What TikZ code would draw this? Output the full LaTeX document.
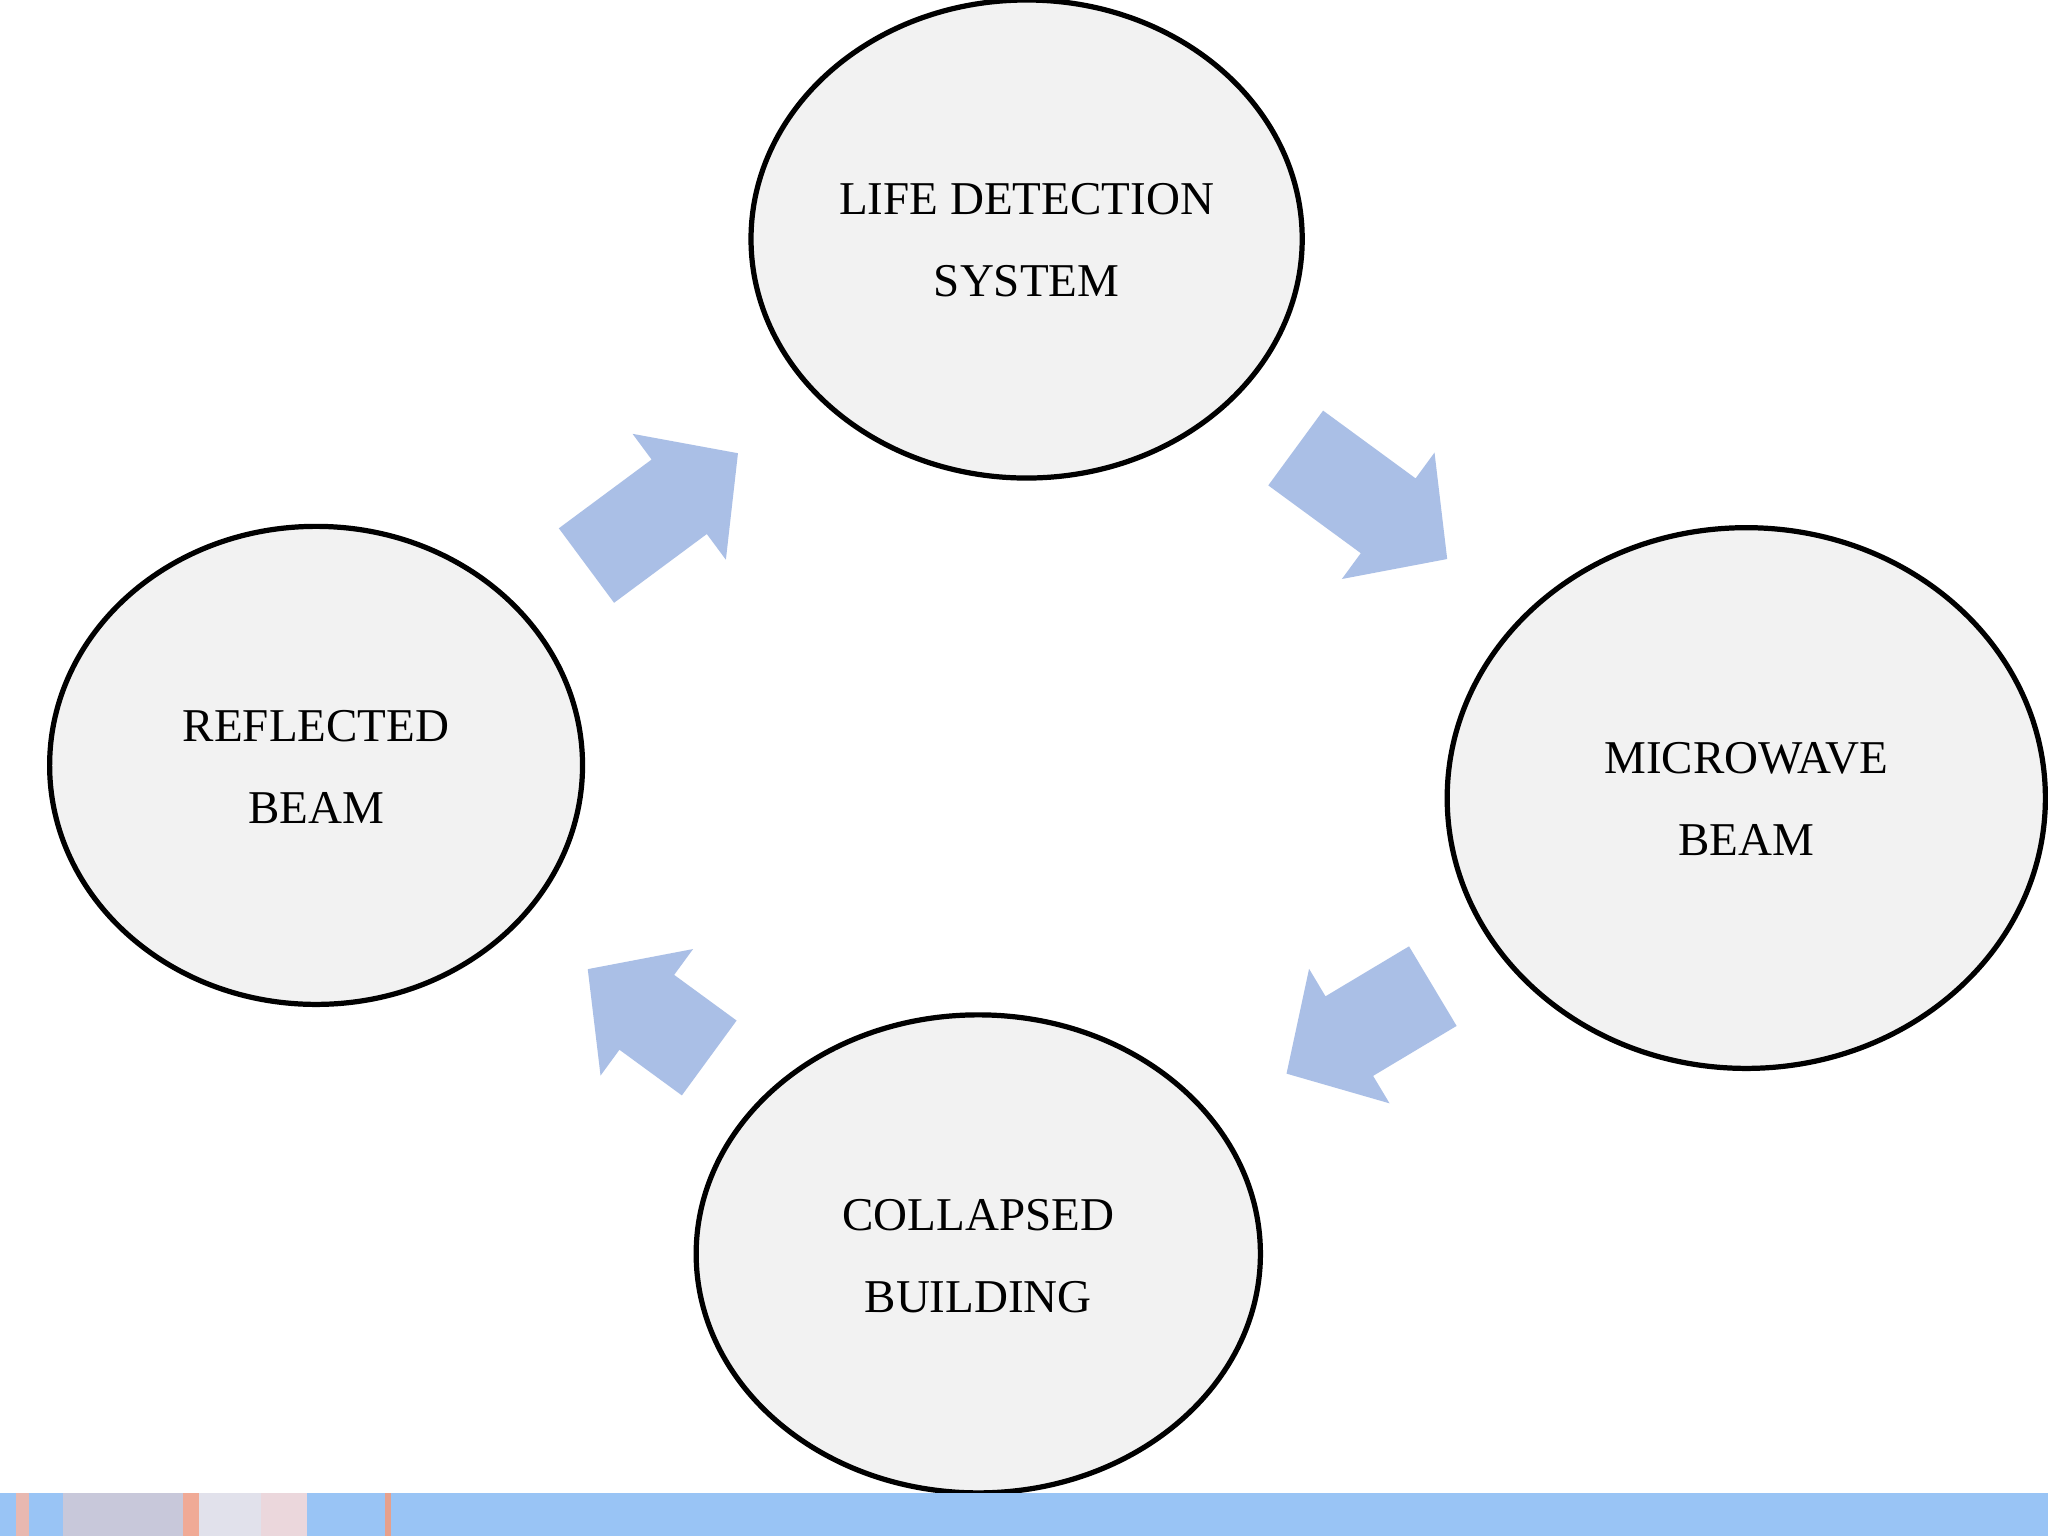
\documentclass[tikz,border=0pt]{standalone}
\usepackage{fontspec}
\setmainfont{Liberation Serif}
\usetikzlibrary{shapes.geometric,calc}
\definecolor{arr}{HTML}{AABFE6}
\definecolor{ellfill}{HTML}{F2F2F2}
\definecolor{bar}{HTML}{99C4F5}
\definecolor{cA}{RGB}{232,184,176}
\definecolor{cB}{RGB}{200,200,218}
\definecolor{cC}{RGB}{240,170,150}
\definecolor{cD}{RGB}{225,225,235}
\definecolor{cE}{RGB}{235,215,220}
\definecolor{cF}{RGB}{230,160,140}
\tikzset{
  blob/.style={ellipse,draw=black,line width=2pt,fill=ellfill,inner sep=0pt},
  lbl/.style={font=\fontsize{18}{31.5}\selectfont,align=center}
}
\newcommand\blockarrow[2]{%
  \coordinate (H) at ($(#2)!28pt!(#1)$);
  \fill[arr] ($(#1)!17.75pt!90:(#2)$) -- ($(H)!17.75pt!-90:(#1)$) -- ($(H)!30pt!-90:(#1)$) -- (#2)
    -- ($(H)!30pt!90:(#1)$) -- ($(H)!17.75pt!90:(#1)$) -- ($(#1)!17.75pt!-90:(#2)$) -- cycle;}
\begin{document}
\begin{tikzpicture}[x=0.5pt,y=-0.5pt]
\useasboundingbox (0,0) rectangle (1568,1176);
\fill[white] (0,0) rectangle (1568,1176);
\node[blob,minimum width=211pt,minimum height=183pt] (top) at (786,183) {};
\node[blob,minimum width=204pt,minimum height=183pt] (left) at (242,586) {};
\node[blob,minimum width=229pt,minimum height=207pt] (right) at (1337,611) {};
\node[blob,minimum width=216pt,minimum height=183pt] (bot) at (749,960) {};
\node[lbl] at (786,184) {LIFE DETECTION\\SYSTEM};
\node[lbl] at (242,587) {REFLECTED\\BEAM};
\node[lbl] at (1337,612) {MICROWAVE\\BEAM};
\node[lbl] at (749,962) {COLLAPSED\\BUILDING};
\coordinate (a1) at (449,433); \coordinate (b1) at (565,347);
\coordinate (a2) at (992,343); \coordinate (b2) at (1108,428);
\coordinate (a3) at (1097,755); \coordinate (b3) at (985,822);
\coordinate (a4) at (543,810); \coordinate (b4) at (450,742);
\blockarrow{a1}{b1}
\blockarrow{a2}{b2}
\blockarrow{a3}{b3}
\blockarrow{a4}{b4}
\fill[bar] (0,1143) rectangle (1568,1176);
\fill[cA] (12,1143) rectangle (22,1176);
\fill[cB] (48,1143) rectangle (140,1176);
\fill[cC] (140,1143) rectangle (152,1176);
\fill[cD] (152,1143) rectangle (200,1176);
\fill[cE] (200,1143) rectangle (235,1176);
\fill[cF] (295,1143) rectangle (299,1176);
\end{tikzpicture}
\end{document}
